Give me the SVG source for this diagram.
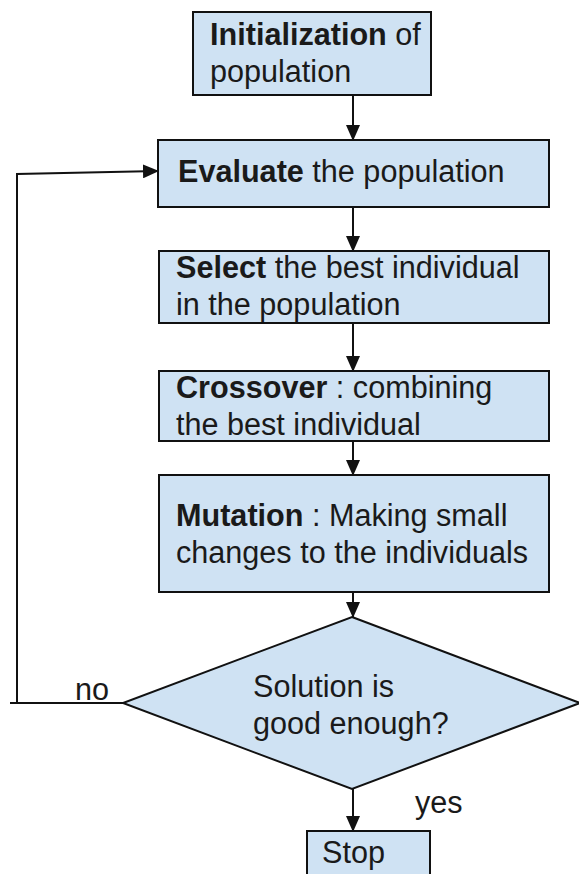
<svg xmlns="http://www.w3.org/2000/svg" width="579" height="874" viewBox="0 0 579 874">
<style>
.box{fill:#cfe2f3;stroke:#111;stroke-width:2}
.t{font-family:"Liberation Sans",Arial,sans-serif;font-size:30.6px;fill:#1a1a1a}
.b{font-weight:bold}
.c{fill:none;stroke:#111;stroke-width:2}
</style>
<defs>
<marker id="ah" markerUnits="userSpaceOnUse" markerWidth="16" markerHeight="14" refX="15" refY="7" orient="auto">
<path d="M0,0 L16,7 L0,14 Z" fill="#111"/>
</marker>
</defs>
<rect width="579" height="874" fill="#fff"/>
<g id="connectors">
<line class="c" x1="353" y1="95" x2="353" y2="140" marker-end="url(#ah)"/>
<line class="c" x1="353" y1="208" x2="353" y2="251" marker-end="url(#ah)"/>
<line class="c" x1="353" y1="324" x2="353" y2="371" marker-end="url(#ah)"/>
<line class="c" x1="353" y1="442" x2="353" y2="475" marker-end="url(#ah)"/>
<line class="c" x1="353" y1="592" x2="353" y2="617" marker-end="url(#ah)"/>
<line class="c" x1="353" y1="789" x2="353" y2="831" marker-end="url(#ah)"/>
<polyline class="c" points="123,703 10,703"/>
<polyline class="c" points="17,703 17,174 158,171" marker-end="url(#ah)"/>
<text class="t" x="75" y="700">no</text>
<text class="t" x="415" y="813">yes</text>
</g>
<g id="init">
<rect class="box" x="193" y="12" width="238" height="83"/>
<text class="t" x="210" y="45"><tspan class="b">Initialization</tspan> of</text>
<text class="t" x="210" y="82">population</text>
</g>
<g id="evaluate">
<rect class="box" x="158" y="140" width="391" height="67"/>
<text class="t" x="178" y="182"><tspan class="b">Evaluate</tspan> the population</text>
</g>
<g id="select">
<rect class="box" x="159" y="251" width="390" height="72"/>
<text class="t" x="176" y="278"><tspan class="b">Select</tspan> the best individual</text>
<text class="t" x="176" y="315">in the population</text>
</g>
<g id="crossover">
<rect class="box" x="159" y="371" width="390" height="70"/>
<text class="t" x="176" y="398"><tspan class="b">Crossover</tspan> : combining</text>
<text class="t" x="176" y="435">the best individual</text>
</g>
<g id="mutation">
<rect class="box" x="159" y="475" width="390" height="117"/>
<text class="t" x="176" y="526"><tspan class="b">Mutation</tspan> : Making small</text>
<text class="t" x="176" y="563">changes to the individuals</text>
</g>
<g id="decision">
<polygon class="box" points="352,617 580,703 352,789 123,703"/>
<text class="t" x="253" y="697">Solution is</text>
<text class="t" x="253" y="734">good enough?</text>
</g>
<g id="stop">
<rect class="box" x="307" y="831" width="123" height="50"/>
<text class="t" x="322" y="863">Stop</text>
</g>
</svg>
